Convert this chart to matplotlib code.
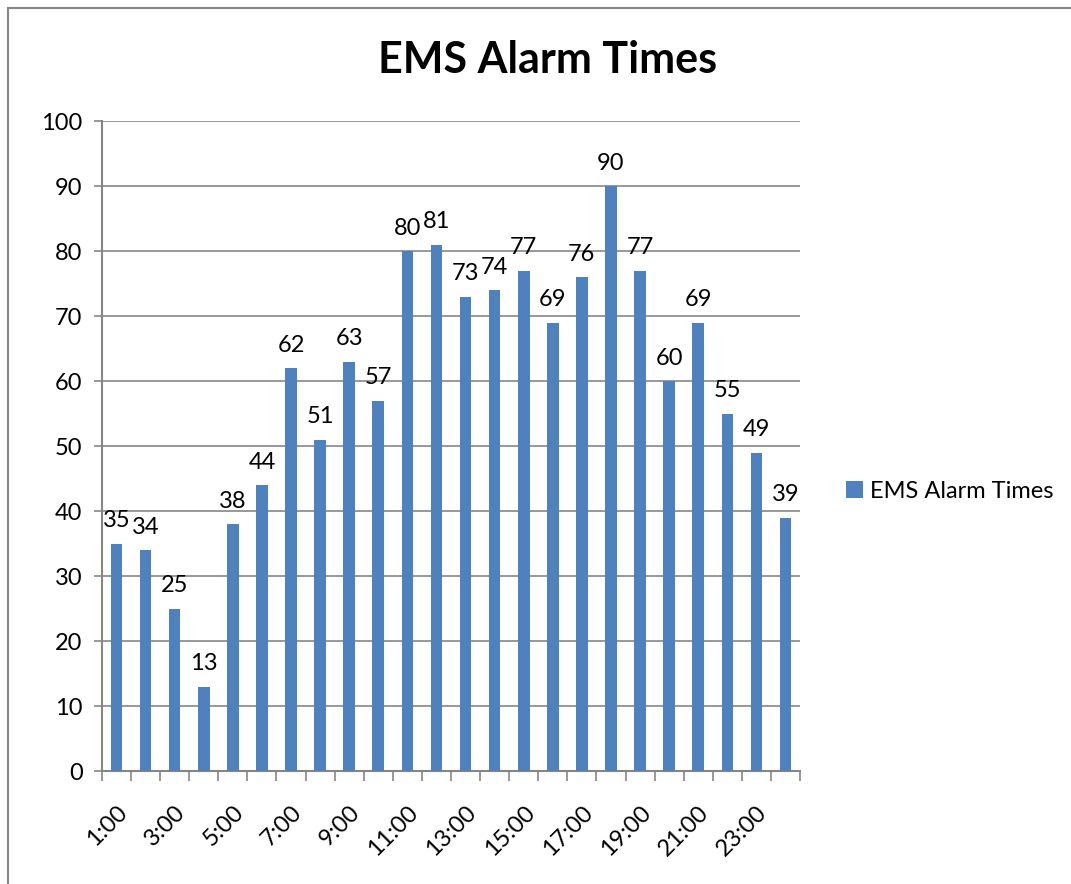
import numpy as np
import matplotlib.pyplot as plt
from matplotlib.patches import Rectangle

hours = ['%d:00' % h for h in range(1, 25)]
alarms = [35, 34, 25, 13, 38, 44, 62, 51, 63, 57, 80, 81,
          73, 74, 77, 69, 76, 90, 77, 60, 69, 55, 49, 39]

bar_color = '#4F81BD'
grid_color = '#868686'
plt.rcParams['font.family'] = ['Lato', 'DejaVu Sans']

fig = plt.figure(figsize=(10.71, 8.84), dpi=100)
ax = fig.add_axes([0.0952, 0.1278, 0.6518, 0.7353])

# outer chart border (Excel-style frame)
fig.patches.append(Rectangle((8 / 1071, -0.05), 1.2, 1 - 8 / 884 + 0.05,
                             transform=fig.transFigure, fill=False,
                             edgecolor=grid_color, linewidth=1.5))

x = np.arange(len(hours))
bars = ax.bar(x, alarms, width=0.4, color=bar_color, label='EMS Alarm Times', zorder=3)
for xi, v in zip(x, alarms):
    ax.annotate(str(v), (xi, v), xytext=(0, 9), textcoords='offset points',
                ha='center', va='bottom', fontsize=17)

ax.set_xlim(-0.5, len(hours) - 0.5)
ax.set_ylim(0, 100)
ax.set_yticks(range(0, 101, 10))
ax.yaxis.grid(True, color=grid_color, linewidth=1.2, zorder=0)
ax.tick_params(axis='y', length=6, color=grid_color, width=1.2, labelsize=17, pad=8)

# major ticks at category edges, labels at every other category
ax.set_xticks(np.arange(-0.5, len(hours), 1))
ax.set_xticklabels([])
ax.set_xticks(x[::2], minor=True)
ax.set_xticklabels(hours[::2], minor=True, rotation=45, ha='right',
                   rotation_mode='anchor', fontsize=17)
ax.tick_params(axis='x', which='major', length=7, color=grid_color, width=1.2, direction='out')
ax.tick_params(axis='x', which='minor', length=0, pad=22)

for s in ['top', 'right']:
    ax.spines[s].set_visible(False)
for s in ['left', 'bottom']:
    ax.spines[s].set_color(grid_color)
    ax.spines[s].set_linewidth(1.5)

fig.text(548 / 1071, 1 - 60 / 884, 'EMS Alarm Times', ha='center', va='center',
         fontsize=31, fontweight='bold')

ax.legend(loc='center left', bbox_to_anchor=(1.036, 0.43), frameon=False,
          fontsize=17, handlelength=0.7, handleheight=0.7, handletextpad=0.3)

fig.savefig('out.png', dpi=100)
